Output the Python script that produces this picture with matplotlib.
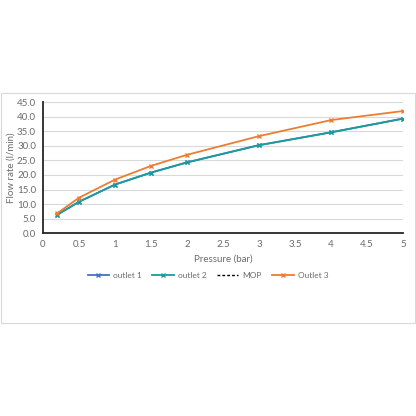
import matplotlib
matplotlib.use("Agg")
from matplotlib import pyplot as plt
from matplotlib.patches import Rectangle

pressure = [0.2, 0.5, 1, 1.5, 2, 3, 4, 5]
outlet1 = [6.4, 10.8, 16.7, 20.8, 24.3, 30.2, 34.6, 39.3]
outlet2 = [6.4, 10.8, 16.7, 20.8, 24.3, 30.2, 34.6, 39.3]
outlet3 = [6.9, 12.2, 18.4, 23.1, 26.9, 33.3, 38.8, 41.9]

plt.rcParams['font.family'] = ['Lato', 'DejaVu Sans']
grey = '#6b6b6b'

fig = plt.figure(figsize=(4.16, 4.16), dpi=100)
fig.patches.append(Rectangle((1/416, 1 - 323/416), 414/416, 230/416,
                             transform=fig.transFigure, fill=False,
                             edgecolor='#d9d9d9', linewidth=0.8))
ax = fig.add_axes([43/416, 1 - 233.3/416, 360/416, 131.3/416])

ax.plot(pressure, outlet1, color='#4472c4', marker='x', markersize=3, linewidth=1.3, label='outlet 1')
ax.plot(pressure, outlet2, color='#1a9c9c', marker='x', markersize=3, linewidth=1.3, label='outlet 2')
ax.plot([], [], color='black', linestyle=(0, (2, 1.5)), linewidth=1, label='MOP')
ax.plot(pressure, outlet3, color='#ed7d31', marker='x', markersize=3, linewidth=1.3, label='Outlet 3')

ax.set_xlim(0, 5)
ax.set_ylim(0, 45)
ax.set_xticks([0, 0.5, 1, 1.5, 2, 2.5, 3, 3.5, 4, 4.5, 5])
ax.set_xticklabels(['0', '0.5', '1', '1.5', '2', '2.5', '3', '3.5', '4', '4.5', '5'])
ax.set_yticks(range(0, 46, 5))
ax.set_yticklabels(['%.1f' % v for v in range(0, 46, 5)])
ax.grid(axis='y', color='#d9d9d9', linewidth=0.8)
ax.set_axisbelow(True)
for s in ['top', 'right']:
    ax.spines[s].set_visible(False)
for s in ['left', 'bottom']:
    ax.spines[s].set_color('#262626')
    ax.spines[s].set_linewidth(1.3)
ax.tick_params(length=0, labelsize=7, colors=grey, pad=5)
ax.set_xlabel('Pressure (bar)', fontsize=7, color=grey, labelpad=4)
ax.set_ylabel('Flow rate (l/min)', fontsize=7, color=grey, labelpad=1)

fig.legend(loc='center', bbox_to_anchor=(0.5, 1 - 275/416), ncol=4, frameon=False,
           fontsize=6, labelcolor=grey, handlelength=2.6, columnspacing=1.2, handletextpad=0.5)

fig.savefig('out.png', dpi=100)
